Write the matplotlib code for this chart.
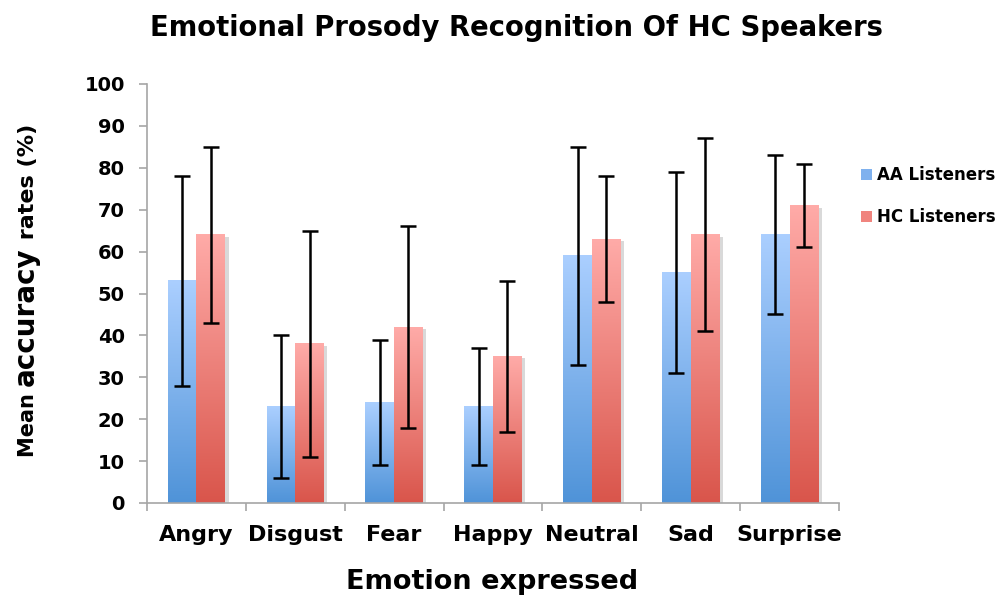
import numpy as np
import matplotlib
matplotlib.use("Agg")
import matplotlib.pyplot as plt
import matplotlib.patheffects as pe
from matplotlib.colors import LinearSegmentedColormap
from matplotlib.patches import Patch

# Data
emotions = ["Angry", "Disgust", "Fear", "Happy", "Neutral", "Sad", "Surprise"]
aa_mean = [53, 23, 24, 23, 59, 55, 64]
aa_err = [25, 17, 15, 14, 26, 24, 19]
hc_mean = [64, 38, 42, 35, 63, 64, 71]
hc_err = [21, 27, 24, 18, 15, 23, 10]
series_names = ["AA Listeners", "HC Listeners"]

# Gradient fills (bottom colour, top colour)
blue_cmap = LinearSegmentedColormap.from_list("blue", ["#4f93d8", "#abcfff"])
red_cmap = LinearSegmentedColormap.from_list("red", ["#d9554b", "#ffaba8"])

plt.rcParams['font.family'] = ['DejaVu Sans']
plt.rcParams['font.weight'] = 'bold'

fig = plt.figure(figsize=(10.07, 5.99), dpi=100)
ax = fig.add_axes([147 / 1007, 1 - 503 / 599, 692 / 1007, 419 / 599])

x = np.arange(len(emotions))
w = 0.29
grad = np.linspace(0, 1, 256).reshape(-1, 1)
shadow = [pe.SimplePatchShadow(offset=(2.5, -1.5), shadow_rgbFace='#000000', alpha=0.15), pe.Normal()]


def gradient_bars(xpos, heights, cmap):
    bars = ax.bar(xpos, heights, w, facecolor='none', edgecolor='none',
                  zorder=1, path_effects=shadow)
    for rect in bars:
        x0, y0 = rect.get_x(), rect.get_y()
        ax.imshow(grad, cmap=cmap, origin='lower', aspect='auto', zorder=2,
                  extent=[x0, x0 + rect.get_width(), y0, y0 + rect.get_height()])
    return bars


gradient_bars(x - w / 2, aa_mean, blue_cmap)
gradient_bars(x + w / 2, hc_mean, red_cmap)

ax.errorbar(x - w / 2, aa_mean, yerr=aa_err, fmt='none', ecolor='black',
            elinewidth=1.8, capsize=6, capthick=1.8, zorder=4)
ax.errorbar(x + w / 2, hc_mean, yerr=hc_err, fmt='none', ecolor='black',
            elinewidth=1.8, capsize=6, capthick=1.8, zorder=4)

ax.set_xlim(-0.5, len(emotions) - 0.5)
ax.set_ylim(0, 100)
ax.set_yticks(range(0, 101, 10))
ax.set_xticks(x)
ax.set_xticklabels(emotions)
ax.set_xticks(np.arange(-0.5, len(emotions)), minor=True)

for s in ['top', 'right']:
    ax.spines[s].set_visible(False)
for s in ['left', 'bottom']:
    ax.spines[s].set_color('#a6a6a6')
    ax.spines[s].set_linewidth(1.2)

ax.tick_params(axis='y', direction='out', length=6, width=1.2, color='#a6a6a6',
               labelsize=14, pad=10)
ax.tick_params(axis='x', which='major', length=0, labelsize=16, pad=16)
ax.tick_params(axis='x', which='minor', direction='out', length=6, width=1.2,
               color='#a6a6a6')
for lab in ax.get_xticklabels() + ax.get_yticklabels():
    lab.set_fontweight('bold')

fig.text(516 / 1007, 1 - 28 / 599, "Emotional Prosody Recognition Of HC Speakers",
         ha='center', va='center', fontsize=19.8, fontweight='bold')
fig.text(492 / 1007, 1 - 582 / 599, "Emotion expressed",
         ha='center', va='center', fontsize=19.5, fontweight='bold')

# y label built from pieces of different sizes, stacked along the baseline
pieces = [("Mean ", 15), ("accuracy", 20), (" rates (%)", 16)]
renderer = fig.canvas.get_renderer()
ypix = 599 - 457
for txt, size in pieces:
    t = fig.text(34 / 1007, ypix / 599, txt, rotation=90, rotation_mode='anchor',
                 ha='left', va='baseline', fontsize=size, fontweight='bold')
    bb = t.get_window_extent(renderer=renderer)
    ypix += bb.height

handles = [Patch(facecolor='#7fb1ee'), Patch(facecolor='#f0847e')]
fig.legend(handles, series_names, loc='center left',
           bbox_to_anchor=(846 / 1007, 1 - 196 / 599), frameon=False,
           handlelength=0.65, handleheight=0.65, handletextpad=0.3,
           labelspacing=1.45, prop={'size': 12, 'weight': 'bold'})

fig.savefig("out.png", dpi=100)
